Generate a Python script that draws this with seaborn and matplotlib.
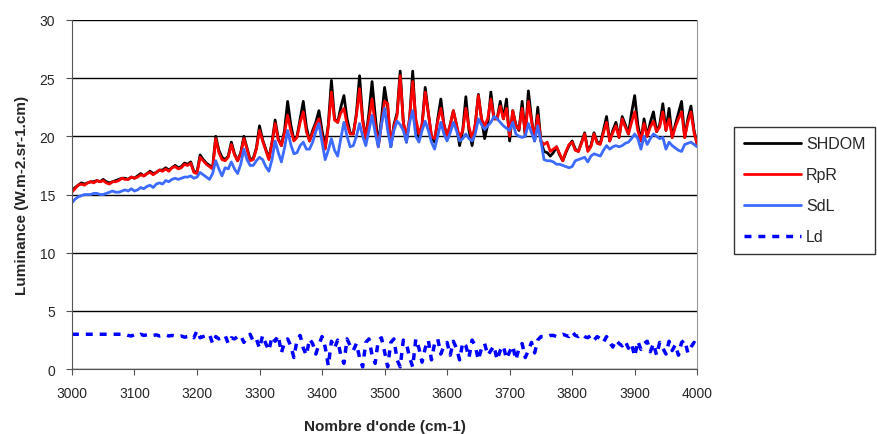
import numpy as np
import pandas as pd
import matplotlib
matplotlib.use("Agg")
import matplotlib.pyplot as plt
import seaborn as sns

# =========================
# DATA (step 5 cm-1)
# =========================

wavenumber = list(range(3000, 4001, 5))

shdom = [
    15.3, 15.6, 15.8, 16.0, 15.9, 16.0, 16.1, 16.1, 16.2, 16.1,
    16.3, 16.1, 16.0, 16.1, 16.2, 16.3, 16.4, 16.4, 16.3, 16.5,
    16.4, 16.6, 16.8, 16.6, 16.8, 17.0, 16.8, 16.9, 17.1, 17.1,
    17.3, 17.1, 17.3, 17.5, 17.3, 17.4, 17.7, 17.6, 17.8, 17.0,
    16.9, 18.4, 18.0, 17.7, 17.5, 17.3, 20.0, 18.8, 18.2, 18.0,
    18.3, 19.5, 18.5, 17.9, 18.6, 20.0, 19.0, 18.0, 18.1, 19.0,
    20.9, 19.7, 18.9, 18.1, 19.5, 21.4, 19.8, 19.2, 20.5, 23.0,
    21.0, 19.7, 20.0, 21.5, 23.0, 20.8, 19.6, 20.5, 21.2, 22.2,
    20.5, 19.0, 21.0, 24.8, 21.5, 21.2, 22.5, 23.5, 21.5, 20.3,
    20.2, 22.0, 25.2, 21.5, 19.8, 22.0, 24.7, 21.8, 19.2, 21.5,
    24.2, 22.5, 19.1, 21.0, 22.0, 25.6, 21.2, 19.5, 21.5, 25.6,
    21.0, 19.8, 21.0, 24.2, 22.0, 20.0, 19.5, 21.5, 23.2, 21.0,
    20.0, 21.0, 22.2, 21.0, 19.2, 20.5, 23.4, 20.5, 19.2, 21.0,
    23.6, 21.5, 19.8, 21.0, 23.8, 21.5, 21.5, 23.0, 21.5, 23.2,
    19.6, 22.2, 21.0, 20.5, 23.0, 20.0, 23.9, 21.5, 19.6, 22.5,
    19.6, 18.7, 18.6, 18.3, 18.6, 19.1, 18.4, 17.9, 18.6, 19.2,
    19.6, 18.9, 18.7, 19.5, 20.3, 18.8, 19.2, 20.3, 19.5, 19.4,
    20.5, 21.7, 19.6, 20.5, 21.2, 19.9, 21.7, 21.0, 20.2, 22.0,
    23.5, 21.0, 19.6, 21.5, 20.0, 21.2, 22.1, 20.4, 21.0, 22.8,
    20.5, 22.4, 19.9, 21.0, 22.0, 23.0, 19.9, 21.5, 22.6, 20.5,
    19.3,
]

rpr = [
    15.2, 15.5, 15.8, 15.9, 15.8, 16.0, 16.1, 16.0, 16.2, 16.1,
    16.2, 16.0, 15.9, 16.1, 16.1, 16.2, 16.4, 16.3, 16.3, 16.5,
    16.4, 16.5, 16.7, 16.6, 16.8, 16.9, 16.7, 16.9, 17.1, 17.0,
    17.2, 17.0, 17.3, 17.4, 17.2, 17.3, 17.6, 17.5, 17.7, 16.9,
    16.8, 18.2, 17.9, 17.6, 17.4, 17.2, 19.8, 18.6, 18.0, 17.9,
    18.2, 19.3, 18.4, 17.9, 18.5, 19.8, 18.9, 17.9, 18.0, 18.9,
    20.5, 19.6, 18.8, 18.0, 19.4, 21.1, 19.7, 19.2, 20.3, 21.8,
    20.5, 19.6, 19.9, 21.2, 22.1, 20.4, 19.6, 20.3, 21.0, 21.5,
    20.0, 18.9, 20.8, 23.8, 21.4, 21.2, 22.0, 22.4, 21.0, 20.2,
    20.2, 21.8, 24.1, 21.3, 19.8, 21.5, 23.2, 21.0, 19.1, 21.0,
    23.0, 22.8, 19.3, 20.8, 21.8, 25.2, 21.2, 20.0, 21.5, 24.7,
    21.5, 20.2, 21.0, 23.8, 22.0, 20.0, 19.8, 21.3, 22.4, 21.0,
    20.0, 21.0, 22.2, 21.0, 19.9, 20.5, 22.4, 20.8, 19.8, 21.0,
    23.5, 21.5, 20.9, 21.5, 23.2, 21.5, 21.5, 22.6, 21.5, 22.4,
    20.0, 22.2, 20.9, 20.6, 22.4, 20.3, 23.0, 21.3, 19.8, 21.8,
    19.6, 19.3, 19.5, 18.7, 18.9, 19.1, 18.5, 17.9, 18.7, 19.3,
    19.5, 18.8, 18.7, 19.4, 20.2, 18.7, 19.1, 20.2, 19.4, 19.3,
    20.3, 21.2, 19.6, 20.3, 20.9, 19.9, 21.5, 20.8, 20.2, 21.2,
    22.1, 20.5, 19.6, 21.1, 20.0, 20.8, 21.3, 20.4, 20.8, 22.1,
    20.5, 21.5, 19.9, 20.8, 21.5, 22.1, 19.9, 21.2, 22.1, 20.3,
    19.3,
]

sdl = [
    14.3, 14.6, 14.8, 14.9, 15.0, 15.0, 15.0, 15.1, 15.1, 15.0,
    15.0, 15.1, 15.2, 15.3, 15.2, 15.2, 15.3, 15.4, 15.3, 15.5,
    15.3, 15.4, 15.6, 15.5, 15.7, 15.8, 15.6, 15.9, 16.0, 15.9,
    16.2, 16.1, 16.3, 16.4, 16.3, 16.4, 16.5, 16.5, 16.6, 16.4,
    16.5, 16.9, 16.7, 16.5, 16.3, 16.8, 17.9, 17.2, 16.6, 17.3,
    17.2, 17.8, 17.2, 16.8, 17.6, 18.9, 18.0, 17.5, 17.5, 17.9,
    18.2, 18.0, 17.4, 17.0, 18.0, 19.6, 18.6, 17.8, 19.0, 20.5,
    19.3, 18.5, 18.6, 19.2, 19.5, 18.9, 18.9, 19.5, 20.4, 21.1,
    19.5, 18.0, 18.8, 19.8, 18.8, 18.3, 19.8, 21.2, 20.0, 19.1,
    19.2, 20.0, 21.1, 20.0, 19.2, 20.5, 21.8, 20.3, 19.1, 21.0,
    22.4, 20.5, 19.1, 20.5, 21.3, 21.0, 20.5, 19.5, 21.2, 22.2,
    20.0, 19.5, 20.5, 21.3, 20.5, 19.5, 18.9, 20.0, 21.2, 20.2,
    19.6, 20.3, 21.2, 20.5, 19.6, 19.8, 20.2, 19.8, 19.6, 20.2,
    21.5, 21.0, 20.6, 20.9, 21.2, 21.7, 21.5, 21.2, 20.9, 20.7,
    20.5, 21.2, 20.2, 20.0, 19.9, 20.0, 21.1, 20.3, 19.6, 20.9,
    19.6, 18.0, 17.9, 17.9, 17.8, 17.6, 17.6, 17.5, 17.4, 17.3,
    17.4, 17.9, 18.0, 18.1, 18.2, 17.8, 18.3, 18.5, 18.4, 18.3,
    18.8, 19.2, 18.9, 19.1, 19.2, 19.1, 19.2, 19.4, 19.5, 19.8,
    20.2, 19.8, 18.9, 20.0, 19.3, 19.8, 20.2, 20.0, 19.8, 19.9,
    18.9, 19.5, 19.2, 19.0, 18.8, 18.7, 19.3, 19.4, 19.5, 19.3,
    19.1,
]

ld = [
    3.0, 3.0, 3.0, 3.0, 3.0, 3.0, 3.0, 3.0, 3.0, 3.0,
    3.0, 3.0, 3.0, 3.0, 3.0, 3.0, 3.0, 3.0, 2.9, 2.85,
    2.95, 2.85, 3.0, 2.9, 2.95, 2.85, 2.9, 2.95, 2.85, 2.9,
    2.95, 2.85, 2.9, 2.85, 2.8, 2.85, 2.75, 2.8, 2.9, 2.7,
    3.3, 2.7, 2.8, 2.9, 3.0, 2.2, 2.8, 2.6, 2.7, 2.9,
    2.2, 2.7, 2.6, 2.8, 2.9, 2.3, 2.7, 3.0, 2.4, 2.6,
    1.8, 2.9, 2.2, 1.6, 2.8, 2.4, 2.9, 1.4, 2.3, 2.6,
    2.0, 1.0, 2.5, 2.9, 1.8, 1.2, 2.6, 2.2, 1.3, 2.1,
    2.8, 1.9, 0.3, 2.4, 1.8, 2.5, 1.2, 0.5, 2.6, 2.0,
    1.6, 2.2, 1.0, 0.2, 2.3, 2.6, 1.2, 0.5, 2.5, 2.7,
    1.5, 0.2, 2.3, 2.6, 0.8, 0.2, 2.5, 2.2, 1.0, 0.2,
    2.6, 1.8, 0.6, 1.8, 2.5, 0.8, 2.2, 2.6, 1.3, 2.0,
    2.3, 1.2, 2.4, 1.8, 0.8, 2.3, 2.0, 1.0, 2.5, 2.0,
    0.8, 1.8, 2.2, 1.2, 1.6, 2.0, 0.8, 1.6, 2.0, 0.9,
    1.5, 2.0, 0.8, 1.8, 2.2, 1.0, 1.6, 2.3, 1.4, 2.5,
    2.8, 2.8, 2.8, 2.9, 2.9, 2.8, 2.9, 3.0, 2.9, 2.8,
    3.2, 2.9, 2.8, 3.0, 2.8, 2.7, 2.9, 2.5, 2.8, 2.6,
    2.3, 2.8, 2.3, 1.9, 2.5, 2.2, 2.0, 2.4, 1.8, 2.2,
    1.1, 2.4, 1.7, 2.2, 2.4, 1.5, 2.2, 1.2, 2.3, 1.8,
    1.3, 2.4, 1.6, 2.1, 1.2, 2.3, 2.5, 1.4, 1.9, 2.3,
    2.0,
]

x_ticks = list(range(3000, 4001, 100))
y_ticks = [0, 5, 10, 15, 20, 25, 30]

# =========================
# PLOT
# =========================

sns.set_style("white")
plt.rcParams['font.family'] = ['Liberation Sans', 'DejaVu Sans']

fig = plt.figure(figsize=(8.77, 4.35), dpi=100)
ax = fig.add_axes([0.082, 0.149, 0.713, 0.803])

sns.lineplot(x=wavenumber, y=shdom, ax=ax, color='black', lw=2.0, label='SHDOM')
sns.lineplot(x=wavenumber, y=rpr, ax=ax, color='#FF0000', lw=2.0, label='RpR')
sns.lineplot(x=wavenumber, y=sdl, ax=ax, color='#3D6BFF', lw=2.0, label='SdL')
sns.lineplot(x=wavenumber, y=ld, ax=ax, color='#0000FF', lw=2.5, label='Ld')
ax.lines[3].set_dashes([2, 2])

ax.set_xlim(3000, 4000)
ax.set_ylim(0, 30)
ax.set_xticks(x_ticks)
ax.set_yticks(y_ticks)
ax.tick_params(axis='both', labelsize=10, direction='out', length=4,
               color='#555555', left=True, bottom=True)
ax.tick_params(axis='x', pad=8)
ax.tick_params(axis='y', pad=8)

ax.yaxis.grid(True, color='black', lw=1)
ax.set_axisbelow(True)
ax.spines['top'].set_visible(False)
ax.spines['left'].set_color('#555555')
ax.spines['bottom'].set_color('#555555')
ax.spines['right'].set_color('#999999')

ax.set_xlabel("Nombre d'onde (cm-1)", fontsize=11, fontweight='bold', labelpad=14)
ax.set_ylabel("Luminance (W.m-2.sr-1.cm)", fontsize=11, fontweight='bold', labelpad=8)

leg = ax.legend(loc='center left', bbox_to_anchor=(0.837, 0.56),
                bbox_transform=fig.transFigure, frameon=True, fancybox=False,
                edgecolor='black', fontsize=11.5, handlelength=3.6,
                handletextpad=0.3, borderpad=0.6, labelspacing=1.0,
                borderaxespad=0)
leg.get_frame().set_linewidth(1)

plt.savefig("out.png", dpi=100)
